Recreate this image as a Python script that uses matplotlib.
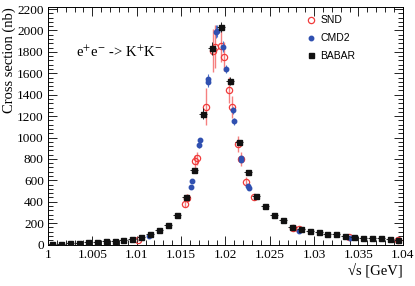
import matplotlib
matplotlib.use("Agg")
import matplotlib.pyplot as plt
from matplotlib.lines import Line2D
from matplotlib.ticker import MultipleLocator, FuncFormatter

# BABAR: 1 MeV bins (centres), cross section and stat. error (nb)
babar_e = [1.0005, 1.0015, 1.0025, 1.0035, 1.0045, 1.0055, 1.0065, 1.0075, 1.0085, 1.0095,
           1.0105, 1.0115, 1.0125, 1.0135, 1.0145, 1.0155, 1.0165, 1.0175, 1.0185, 1.0195,
           1.0205, 1.0215, 1.0225, 1.0235, 1.0245, 1.0255, 1.0265, 1.0275, 1.0285, 1.0295,
           1.0305, 1.0315, 1.0325, 1.0335, 1.0345, 1.0355, 1.0365, 1.0375, 1.0385, 1.0395]
babar_xs = [9, 5, 12, 12, 19, 24, 31, 37, 43, 52,
            68, 102, 133, 180, 274, 443, 701, 1222, 1834, 2030,
            1530, 955, 680, 458, 364, 280, 228, 168, 149, 127,
            121, 102, 96, 77, 74, 61, 59, 61, 49, 43]
babar_err = [3, 3, 3, 3, 3, 3, 3, 3, 3, 4,
             4, 5, 6, 7, 9, 12, 16, 50, 60, 45,
             40, 20, 14, 10, 8, 7, 6, 5, 5, 4,
             4, 4, 4, 3, 3, 3, 3, 3, 3, 3]

# CMD2
cmd2_e = [1.0114, 1.0161, 1.0162, 1.0170, 1.0171, 1.0180, 1.0180, 1.0189, 1.0191, 1.0197,
          1.0201, 1.0208, 1.0210, 1.0217, 1.0218, 1.0226, 1.0227, 1.0283, 1.0340]
cmd2_xs = [80, 540, 589, 931, 974, 1546, 1514, 1989, 1995, 1849,
           1642, 1253, 1151, 810, 791, 546, 527, 130, 65]
cmd2_err = [4, 15, 15, 25, 25, 45, 45, 60, 60, 50,
            40, 35, 30, 20, 20, 15, 15, 5, 4]

# SND
snd_e = [1.0102, 1.0154, 1.0157, 1.0166, 1.0168, 1.0178, 1.0186, 1.0188, 1.0195, 1.0198,
         1.0204, 1.0207, 1.0214, 1.0217, 1.0223, 1.0232, 1.0276, 1.0283, 1.0339, 1.0395]
snd_xs = [40, 378, 438, 778, 806, 1288, 1812, 1849, 1856, 1756,
          1446, 1285, 940, 803, 587, 447, 155, 142, 68, 43]
snd_err = [10, 25, 30, 60, 60, 170, 200, 200, 150, 135,
           120, 100, 75, 65, 40, 25, 8, 8, 5, 5]

serif = ["Liberation Serif", "DejaVu Serif"]
plt.rcParams["mathtext.fontset"] = "stix"

fig = plt.figure(figsize=(4.15, 2.86), dpi=100)
ax = fig.add_axes([0.1157, 0.145, 0.855, 0.83])

snd_col = "#f03c3c"
cmd_col = "#3050b0"
bab_col = "#111111"

ax.errorbar(snd_e, snd_xs, yerr=snd_err, fmt="o", ms=4.5, mfc="none", mec=snd_col,
            mew=0.9, ecolor="#f58080", elinewidth=1.0, capsize=0, zorder=3)
ax.errorbar(cmd2_e, cmd2_xs, yerr=cmd2_err, fmt="o", ms=3.2, color=cmd_col,
            ecolor="#5070c8", elinewidth=0.8, capsize=0, zorder=4)
ax.errorbar(babar_e, babar_xs, xerr=0.00045, yerr=babar_err, fmt="s", ms=3.6, color=bab_col,
            ecolor="#222222", elinewidth=0.7, capsize=0, zorder=5)

ax.set_xlim(1.0, 1.04)
ax.set_ylim(0, 2218)
ax.xaxis.set_major_locator(MultipleLocator(0.005))
ax.xaxis.set_minor_locator(MultipleLocator(0.001))
ax.yaxis.set_major_locator(MultipleLocator(200))
ax.yaxis.set_minor_locator(MultipleLocator(40))
ax.xaxis.set_major_formatter(FuncFormatter(lambda v, p: "%g" % round(v, 4)))
ax.tick_params(which="both", direction="in", top=True, right=True, width=0.6)
ax.tick_params(which="major", length=6.5, labelsize=9.5, pad=3)
ax.tick_params(which="minor", length=3.5)
for lab in ax.get_xticklabels() + ax.get_yticklabels():
    lab.set_family(serif)
for s in ax.spines.values():
    s.set_linewidth(0.7)

ax.set_ylabel("Cross section (nb)", family=serif, fontsize=10.5, loc="top", labelpad=1)
ax.set_xlabel("\u221as [GeV]", family=serif, fontsize=10.5, loc="right", labelpad=2)

ax.text(0.08, 0.81, r"e$^{+}$e$^{-}$ -> K$^{+}$K$^{-}$", transform=ax.transAxes,
        family=serif, fontsize=10.5, va="center")

handles = [
    Line2D([], [], ls="none", marker="o", ms=4.5, mfc="none", mec=snd_col, mew=0.9),
    Line2D([], [], ls="none", marker="o", ms=3.2, color=cmd_col),
    Line2D([], [], ls="none", marker="s", ms=3.6, color=bab_col),
]
ax.legend(handles, ["SND", "CMD2", "BABAR"], loc="upper left", bbox_to_anchor=(0.70, 1.005),
          frameon=False, prop={"family": ["Liberation Sans", "DejaVu Sans"], "size": 7.5},
          handletextpad=0.4, labelspacing=0.75, handlelength=1.0)

fig.savefig("out.png", dpi=100)
